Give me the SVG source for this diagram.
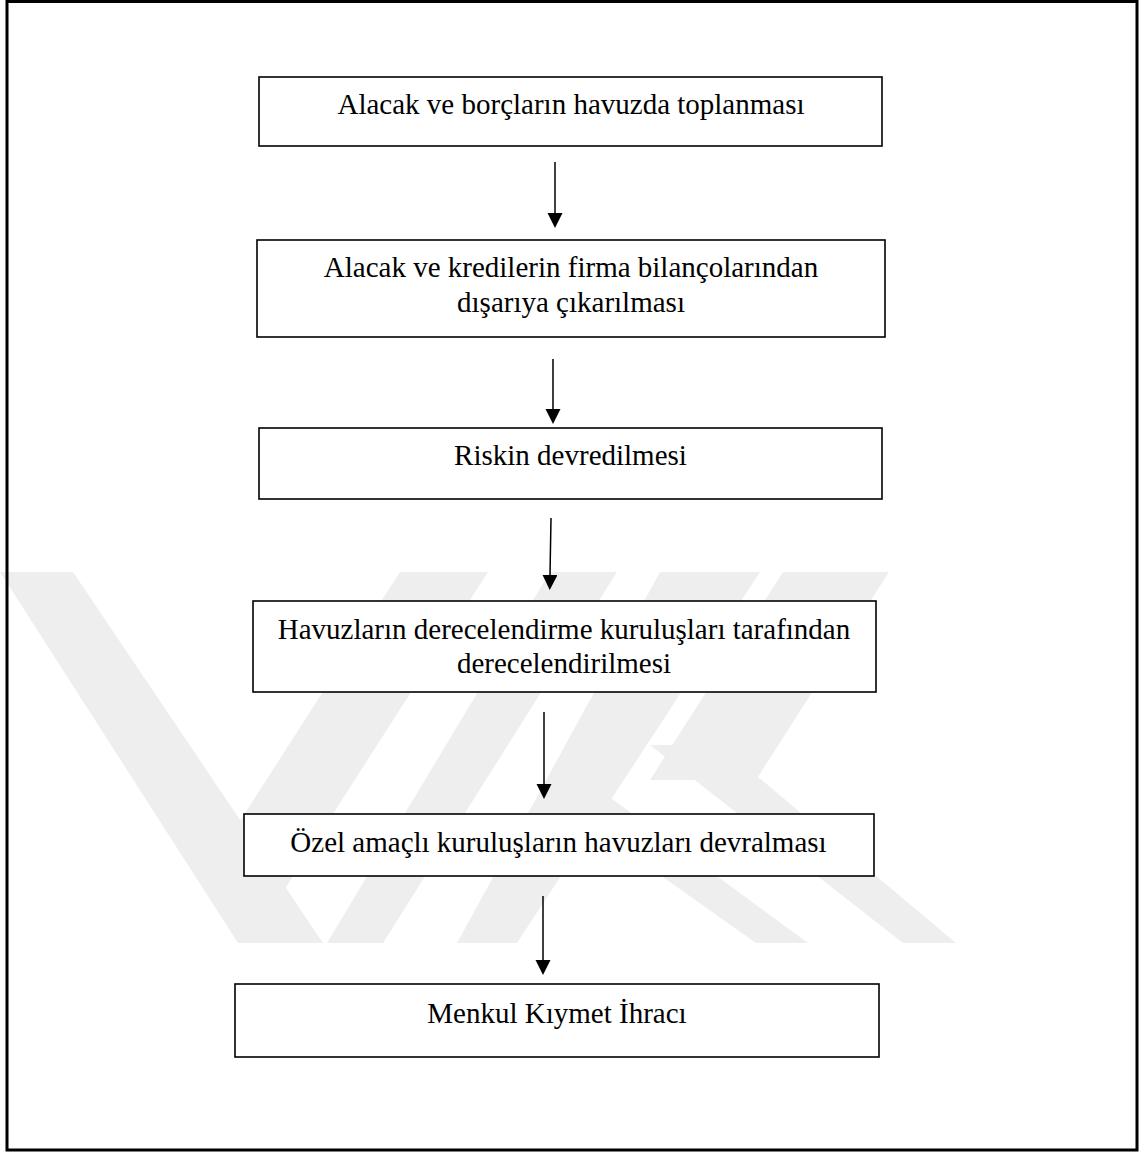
<svg xmlns="http://www.w3.org/2000/svg" width="1146" height="1153" viewBox="0 0 1146 1153">
<style>
.wm{fill:#eeeeee}
.box{fill:#ffffff;stroke:#000000;stroke-width:1.6}
.lbl{font-family:"Liberation Serif","Times New Roman",serif;font-size:29px;fill:#000000;text-anchor:middle}
.con{stroke:#000000;stroke-width:1.5;fill:none}
</style>
<defs>
<marker id="ah" markerUnits="userSpaceOnUse" markerWidth="16" markerHeight="16" refX="0" refY="7.5" orient="auto">
<path d="M0,0 L15,7.5 L0,15 Z" fill="#000000"/>
</marker>
</defs>
<rect width="1146" height="1153" fill="#ffffff"/>
<g id="watermark">
<polygon class="wm" points="0,572 73,572 323,943 238,943"/>
<polygon class="wm" points="400,572 488,572 281,895 200,883"/>
<polygon class="wm" points="550,572 617,572 383,943 327,943"/>
<polygon class="wm" points="660,572 760,572 517,943 457,943"/>
<polygon class="wm" points="783,572 889,572 756,780 650,780"/>
<polygon class="wm" points="650,745 720,745 956,943 903,943"/>
<polygon class="wm" points="540,790 600,790 808,943 756,943"/>
</g>
<rect id="frame" x="7" y="1.5" width="1130" height="1148.5" fill="none" stroke="#000000" stroke-width="3"/>
<g id="connectors">
<line class="con" x1="555" y1="162" x2="555" y2="213" marker-end="url(#ah)"/>
<line class="con" x1="553" y1="359" x2="553" y2="409" marker-end="url(#ah)"/>
<line class="con" x1="551" y1="518" x2="550" y2="575" marker-end="url(#ah)"/>
<line class="con" x1="544" y1="712" x2="544" y2="784" marker-end="url(#ah)"/>
<line class="con" x1="543" y1="896" x2="543" y2="960" marker-end="url(#ah)"/>
</g>
<g id="n1">
<rect class="box" x="259" y="77" width="623" height="69"/>
<text class="lbl" x="571" y="114">Alacak ve borçların havuzda toplanması</text>
</g>
<g id="n2">
<rect class="box" x="257" y="240" width="628" height="97"/>
<text class="lbl" x="571" y="277">Alacak ve kredilerin firma bilançolarından</text>
<text class="lbl" x="571" y="312">dışarıya çıkarılması</text>
</g>
<g id="n3">
<rect class="box" x="259" y="428" width="623" height="71"/>
<text class="lbl" x="570.5" y="465">Riskin devredilmesi</text>
</g>
<g id="n4">
<rect class="box" x="253" y="601" width="623" height="91"/>
<text class="lbl" x="564" y="639">Havuzların derecelendirme kuruluşları tarafından</text>
<text class="lbl" x="564" y="673">derecelendirilmesi</text>
</g>
<g id="n5">
<rect class="box" x="244" y="814" width="630" height="62"/>
<text class="lbl" x="558.5" y="852">Özel amaçlı kuruluşların havuzları devralması</text>
</g>
<g id="n6">
<rect class="box" x="235" y="984" width="644" height="73" stroke-width="2"/>
<text class="lbl" x="557" y="1023">Menkul Kıymet İhracı</text>
</g>
</svg>
